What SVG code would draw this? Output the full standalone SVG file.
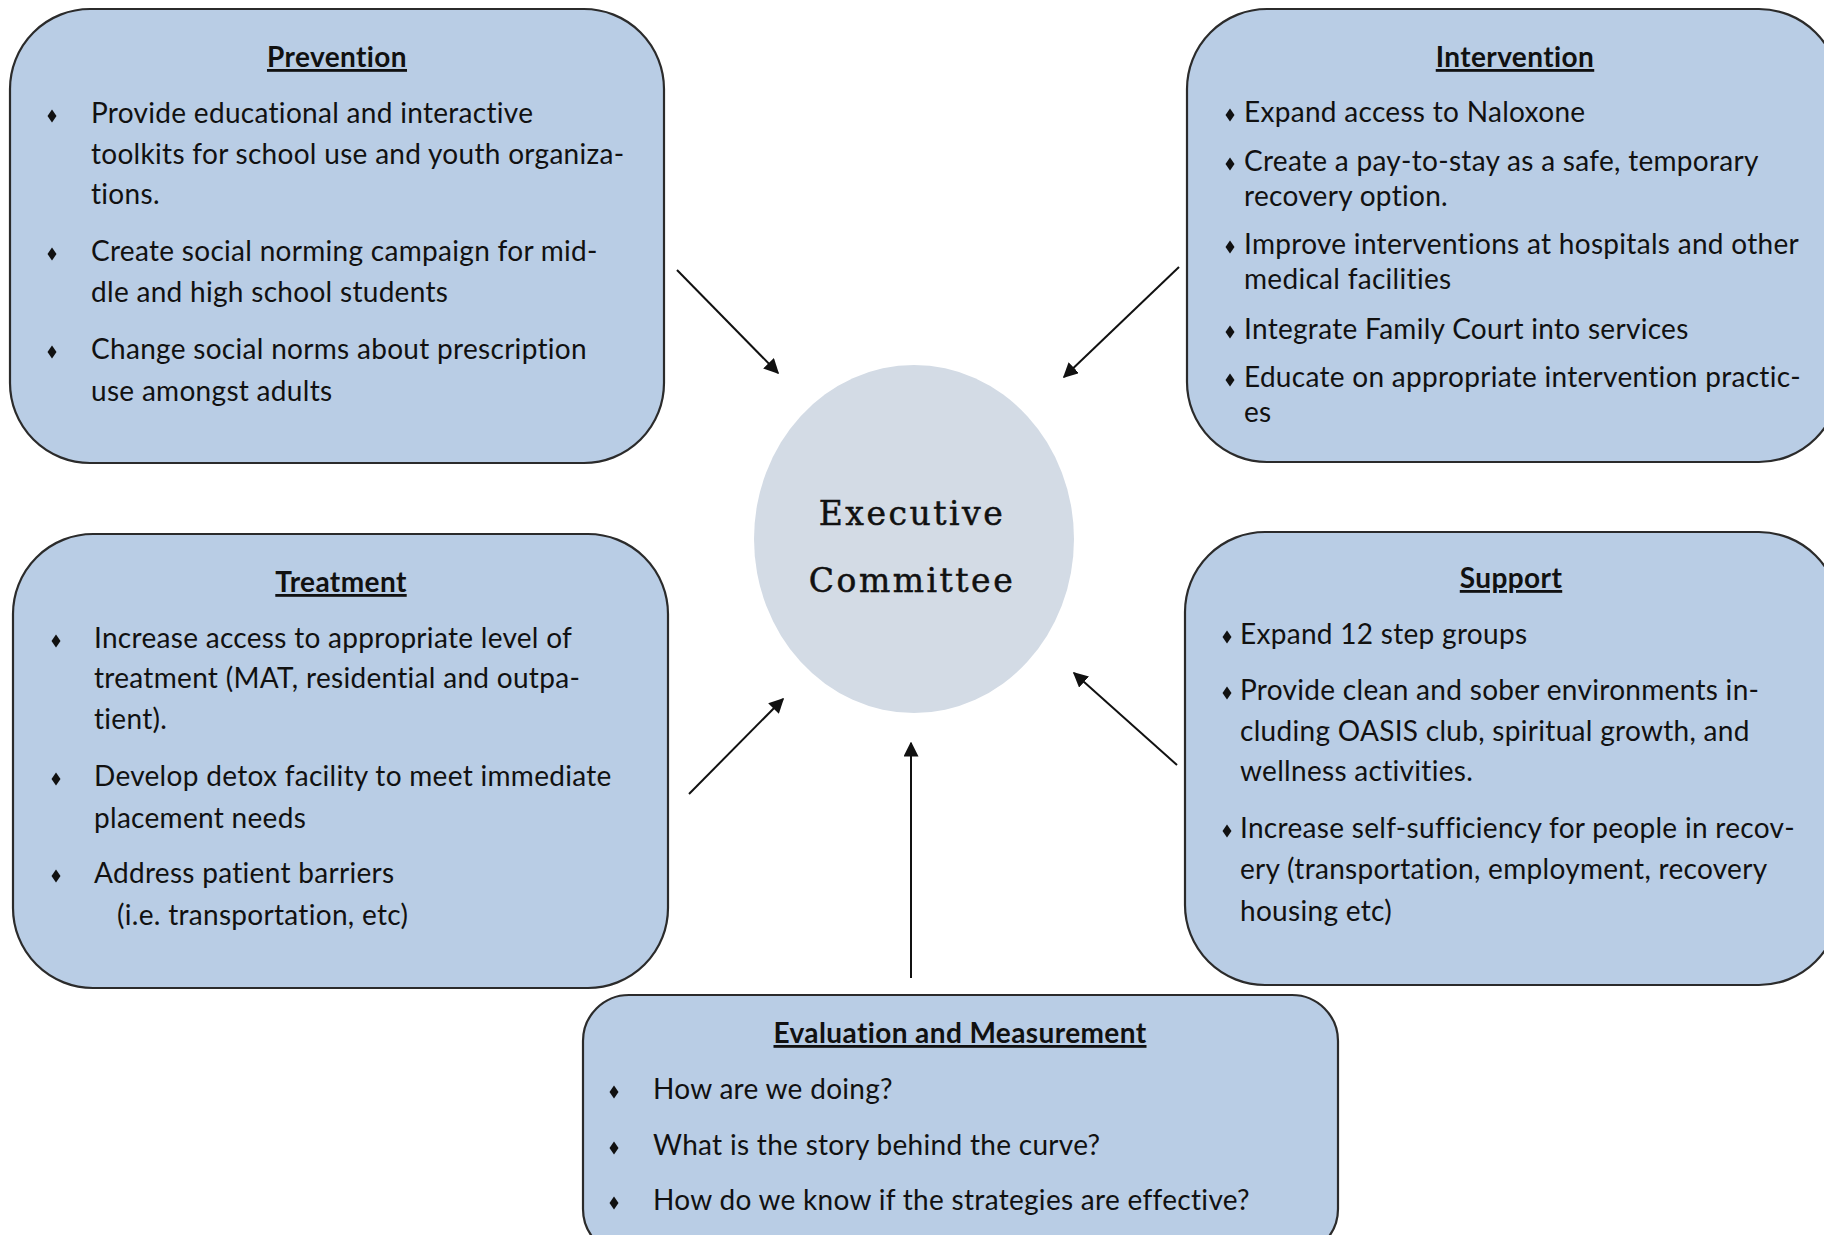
<svg xmlns="http://www.w3.org/2000/svg" width="1824" height="1235" viewBox="0 0 1824 1235">
<defs>
<style>
.box{fill:#b9cde5;stroke:#2b2b2b;stroke-width:2.2}
.t{font-family:Lato,"Open Sans","Liberation Sans",sans-serif;font-size:28px;letter-spacing:0.3px;fill:#111}
.h{font-family:Lato,"Open Sans","Liberation Sans",sans-serif;font-size:28px;letter-spacing:0.4px;font-weight:bold;fill:#111;text-anchor:middle;text-decoration:underline}
.ec{font-family:"DejaVu Serif","Liberation Serif",serif;font-size:33px;fill:#111;stroke:#111;stroke-width:0.5;text-anchor:middle;letter-spacing:2.5px}
.conn{stroke:#111;stroke-width:2;fill:none;marker-end:url(#ah)}
</style>
<marker id="ah" viewBox="0 0 10 10" refX="9" refY="5" markerWidth="7.5" markerHeight="7.5" markerUnits="strokeWidth" orient="auto">
<path d="M0,0 L10,5 L0,10 z" fill="#111"/>
</marker>
<path id="dia" d="M0,-6.5 L4.5,0 L0,6.5 L-4.5,0 z" fill="#111"/>
</defs>
<rect width="1824" height="1235" fill="#ffffff"/>

<g id="connectors">
<line class="conn" x1="677" y1="270" x2="778" y2="373"/>
<line class="conn" x1="1179" y1="267" x2="1064" y2="377"/>
<line class="conn" x1="689" y1="794" x2="783" y2="699"/>
<line class="conn" x1="1177" y1="765" x2="1074" y2="673"/>
<line class="conn" x1="911" y1="978" x2="911" y2="743"/>
</g>

<g id="executive-committee">
<ellipse cx="914" cy="539" rx="160" ry="174" fill="#d3dbe5"/>
<text class="ec" x="912" y="525">Executive</text>
<text class="ec" x="912" y="592">Committee</text>
</g>

<g id="prevention">
<rect class="box" x="10" y="9" width="654" height="454" rx="80" ry="80"/>
<text class="h" x="337" y="67">Prevention</text>
<use href="#dia" x="52" y="116"/>
<use href="#dia" x="52" y="254"/>
<use href="#dia" x="52" y="352"/>
<text class="t" x="91" y="123">Provide educational and interactive</text>
<text class="t" x="91" y="164">toolkits for school use and youth organiza-</text>
<text class="t" x="91" y="204">tions.</text>
<text class="t" x="91" y="261">Create social norming campaign for mid-</text>
<text class="t" x="91" y="302">dle and high school students</text>
<text class="t" x="91" y="359">Change social norms about prescription</text>
<text class="t" x="91" y="401">use amongst adults</text>
</g>

<g id="intervention">
<rect class="box" x="1187" y="9" width="652" height="453" rx="80" ry="80"/>
<text class="h" x="1515" y="67">Intervention</text>
<use href="#dia" x="1230" y="115"/>
<use href="#dia" x="1230" y="164"/>
<use href="#dia" x="1230" y="247"/>
<use href="#dia" x="1230" y="332"/>
<use href="#dia" x="1230" y="380"/>
<text class="t" x="1244" y="122">Expand access to Naloxone</text>
<text class="t" x="1244" y="171">Create a pay-to-stay as a safe, temporary</text>
<text class="t" x="1244" y="206">recovery option.</text>
<text class="t" x="1244" y="254">Improve interventions at hospitals and other</text>
<text class="t" x="1244" y="289">medical facilities</text>
<text class="t" x="1244" y="339">Integrate Family Court into services</text>
<text class="t" x="1244" y="387">Educate on appropriate intervention practic-</text>
<text class="t" x="1244" y="422">es</text>
</g>

<g id="treatment">
<rect class="box" x="13" y="534" width="655" height="454" rx="80" ry="80"/>
<text class="h" x="341" y="592">Treatment</text>
<use href="#dia" x="56" y="641"/>
<use href="#dia" x="56" y="779"/>
<use href="#dia" x="56" y="876"/>
<text class="t" x="94" y="648">Increase access to appropriate level of</text>
<text class="t" x="94" y="688">treatment (MAT, residential and outpa-</text>
<text class="t" x="94" y="729">tient).</text>
<text class="t" x="94" y="786">Develop detox facility to meet immediate</text>
<text class="t" x="94" y="828">placement needs</text>
<text class="t" x="94" y="883">Address patient barriers</text>
<text class="t" x="117" y="925">(i.e. transportation, etc)</text>
</g>

<g id="support">
<rect class="box" x="1185" y="532" width="654" height="453" rx="80" ry="80"/>
<text class="h" x="1511" y="588">Support</text>
<use href="#dia" x="1227" y="637"/>
<use href="#dia" x="1227" y="693"/>
<use href="#dia" x="1227" y="831"/>
<text class="t" x="1240" y="644">Expand 12 step groups</text>
<text class="t" x="1240" y="700">Provide clean and sober environments in-</text>
<text class="t" x="1240" y="741">cluding OASIS club, spiritual growth, and</text>
<text class="t" x="1240" y="781">wellness  activities.</text>
<text class="t" x="1240" y="838">Increase self-sufficiency for people in recov-</text>
<text class="t" x="1240" y="879">ery (transportation, employment, recovery</text>
<text class="t" x="1240" y="921">housing etc)</text>
</g>

<g id="evaluation">
<rect class="box" x="583" y="995" width="755" height="260" rx="46" ry="46"/>
<text class="h" x="960" y="1043">Evaluation and Measurement</text>
<use href="#dia" x="614" y="1092"/>
<use href="#dia" x="614" y="1148"/>
<use href="#dia" x="614" y="1203"/>
<text class="t" x="653" y="1099">How are we doing?</text>
<text class="t" x="653" y="1155">What is the story behind the curve?</text>
<text class="t" x="653" y="1210">How do we know if the strategies are effective?</text>
</g>
</svg>
